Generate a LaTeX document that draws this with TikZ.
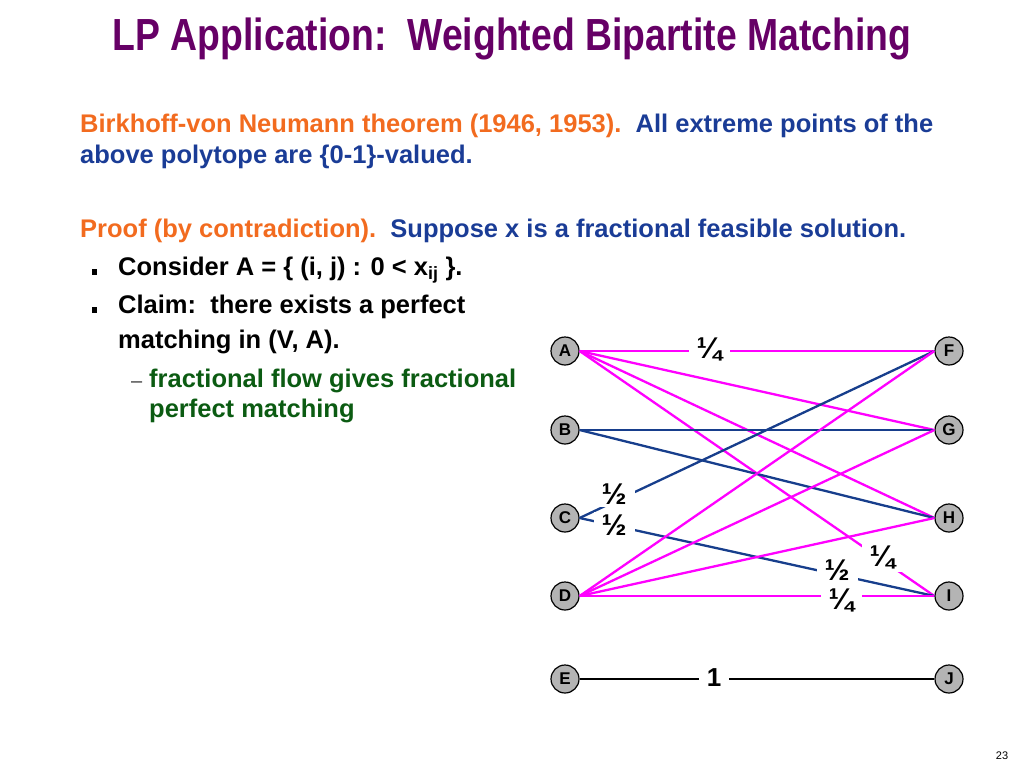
\documentclass[tikz,border=0pt]{standalone}
\usepackage{fontspec}
\setmainfont{Liberation Sans}
\usetikzlibrary{positioning}
\definecolor{ttlpurple}{HTML}{660066}
\definecolor{thmorange}{HTML}{F26B1F}
\definecolor{txtblue}{HTML}{1A3C96}
\definecolor{txtgreen}{HTML}{0B5B12}
\definecolor{edgeblue}{HTML}{173E8C}
\definecolor{edgemag}{HTML}{FF00FF}
\definecolor{vxgray}{HTML}{B4B4B4}

\begin{document}
\begin{tikzpicture}[x=1pt, y=-1pt,
  every node/.style={inner sep=0pt},
  body/.style={anchor=base west, font=\fontsize{25.5}{30}\selectfont\bfseries},
  sqbullet/.style={rectangle, fill=black, minimum size=5.5pt},
  vertex/.style={circle, draw=black, fill=vxgray, line width=1.2pt,
    minimum size=28pt, font=\fontsize{17}{17}\selectfont\bfseries},
  medge/.style={edgemag, line width=2.3pt},
  bedge/.style={edgeblue, line width=2.3pt},
  kedge/.style={black, line width=2.3pt},
  flbl/.style={fill=white, inner xsep=8pt, inner ysep=3pt,
    font=\fontsize{30}{30}\selectfont\bfseries},
]
\useasboundingbox (0,0) rectangle (1024,768);

% Title
\node[font=\fontsize{45}{45}\selectfont\bfseries, text=ttlpurple, anchor=base] (title) at (512,51)
  {\scalebox{0.83}[1]{LP Application:\ \ Weighted Bipartite Matching}};

% Theorem
\node[body, text=thmorange] (thm1) at (80,132)
  {Birkhoff-von Neumann theorem (1946, 1953).\ \ \textcolor{txtblue}{All extreme points of the}};
\node[body, text=txtblue] (thm2) at (80,163) {above polytope are \{0-1\}-valued.};

% Proof
\node[body, text=thmorange] (prf) at (80,237)
  {Proof (by contradiction).\ \ \textcolor{txtblue}{Suppose x is a fractional feasible solution.}};
\node[sqbullet] (b1) at (94.5,272) {};
\node[body] (cons) at (118,275) {Consider A = \{ (i, j) : 0 < x\textsubscript{ij} \}.};
\node[sqbullet] (b2) at (94.5,310) {};
\node[body] (clm1) at (118,313) {Claim:\ \ there exists a perfect};
\node[body] (clm2) at (118,348) {matching in (V, A).};
\node[anchor=base west, font=\fontsize{20}{20}\selectfont, text=black!75] (dsh) at (131,387) {–};
\node[body, text=txtgreen] (frac1) at (149,387) {fractional flow gives fractional};
\node[body, text=txtgreen] (frac2) at (149,417) {perfect matching};

% Vertices
\node[vertex] (A) at (565,351) {A};
\node[vertex] (B) at (565,430) {B};
\node[vertex] (C) at (565,518) {C};
\node[vertex] (D) at (565,596) {D};
\node[vertex] (E) at (565,679) {E};
\node[vertex] (F) at (949,351) {F};
\node[vertex] (G) at (949,430) {G};
\node[vertex] (H) at (949,518) {H};
\node[vertex] (I) at (949,596) {I};
\node[vertex] (J) at (949,679) {J};

% Edges
\draw[medge] (A.east) -- (F.west);
\draw[medge] (A.east) -- (G.west);
\draw[medge] (A.east) -- (H.west);
\draw[medge] (A.east) -- (I.west);
\draw[bedge] (B.east) -- (G.west);
\draw[bedge] (B.east) -- (H.west);
\draw[bedge] (C.east) -- (F.west);
\draw[bedge] (C.east) -- (I.west);
\draw[medge] (D.east) -- (F.west);
\draw[medge] (D.east) -- (G.west);
\draw[medge] (D.east) -- (H.west);
\draw[medge] (D.east) -- (I.west);
\draw[kedge] (E.east) -- (J.west);

% Edge values
\node[flbl] (lAF) at (709,349) {¼};
\node[flbl] (lAI) at (882,557) {¼};
\node[flbl] (lCF) at (614,494) {½};
\node[flbl] (lCI) at (614,525) {½};
\node[flbl] (lCI2) at (837,570) {½};
\node[flbl] (lDI) at (841,600) {¼};
\node[flbl, font=\fontsize{26}{26}\selectfont\bfseries] (lEJ) at (714,678) {1};

% Page number
\node[anchor=base, font=\fontsize{11}{11}\selectfont] (pg) at (1002,759) {23};
\end{tikzpicture}
\end{document}
